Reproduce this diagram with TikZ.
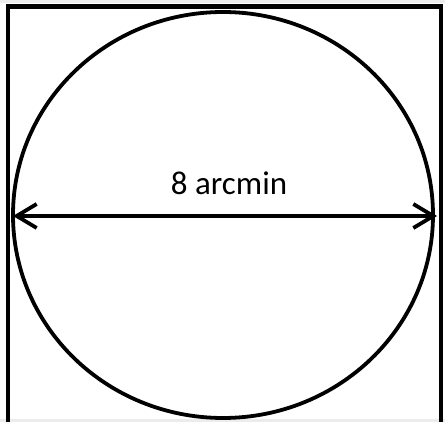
\documentclass[tikz,border=0pt]{standalone}
\usepackage{fontspec}
\setmainfont{Carlito}
\usetikzlibrary{arrows.meta}
\begin{document}
\begin{tikzpicture}[x=1pt,y=-1pt,
  frame/.style={line width=4.5pt,black},
  ring/.style={line width=3.8pt,black},
  dim/.style={line width=3.8pt,black,{Straight Barb[length=20pt,width=24pt,line width=3.8pt]}-{Straight Barb[length=20pt,width=24pt,line width=3.8pt]}},
  lbl/.style={font=\fontsize{33}{38}\selectfont,inner sep=0pt}]
\useasboundingbox (0,0) rectangle (445,422);
\fill[gray!15] (0,0) rectangle (445,3);
\fill[gray!15] (0,419) rectangle (445,422);
\draw[frame] (8,430) -- (8,6.5) -- (441,6.5) -- (441,430);
\draw[ring] (223,215) ellipse [x radius=210, y radius=203];
\coordinate (l) at (13,216);
\coordinate (r) at (437,216);
\draw[dim] (l) -- (r);
\node[lbl] (t) at (229,183) {8 arcmin};
\end{tikzpicture}
\end{document}
